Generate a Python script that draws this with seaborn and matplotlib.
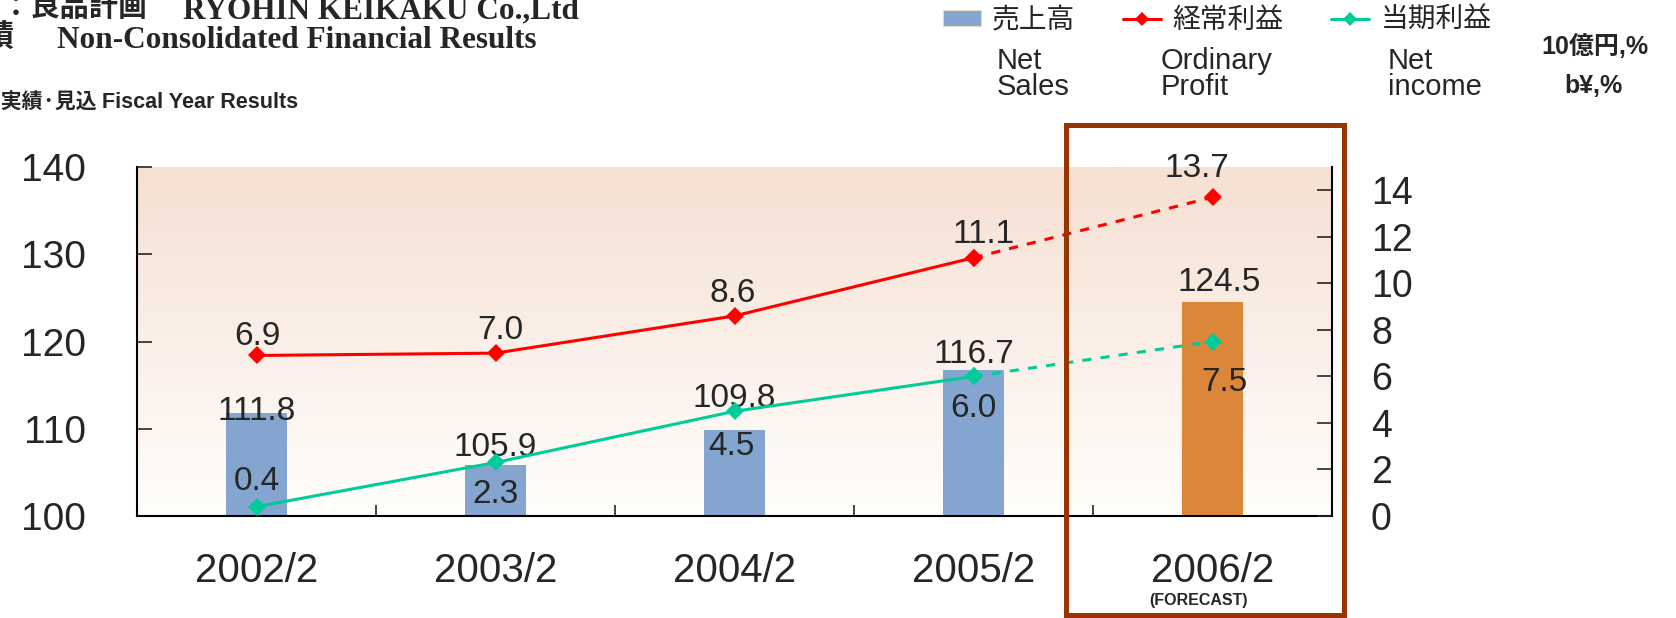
import numpy as np
import seaborn as sns
import matplotlib.pyplot as plt
from matplotlib.patches import Patch, Rectangle
from matplotlib.lines import Line2D
from matplotlib.ticker import FixedLocator, MultipleLocator

# ---- data (10億円 / b¥) ----
years = ['2002/2', '2003/2', '2004/2', '2005/2', '2006/2']
net_sales = [111.8, 105.9, 109.8, 116.7, 124.5]
ordinary_profit = [6.9, 7.0, 8.6, 11.1, 13.7]
net_income = [0.4, 2.3, 4.5, 6.0, 7.5]

legend_jp = ['売上高', '経常利益', '当期利益']
legend_en = ['Net\nSales', 'Ordinary\nProfit', 'Net\nincome']

# label offsets (points) from each mark
sales_off = [(0, 1), (0, 12), (0, 23), (0, 11.5), (5, 14)]
op_off = [(1, 13.7), (3.6, 16.6), (-1, 15.8), (7, 16.6), (-11, 20.5)]
ni_off = [(0, 18), (0, -22.7), (-2, -25.2), (0, -23), (8.3, -29.5)]

BLUE = '#84A5D0'
ORANGE = '#DC8639'
RED = '#FF0000'
GREEN = '#00CC99'
W, H = 1676, 618

sns.set_style('white')
plt.rcParams['font.family'] = ['Liberation Sans', 'Noto Sans CJK JP', 'DejaVu Sans']

fig = plt.figure(figsize=(W / 100, H / 100), dpi=100)
ax = fig.add_axes([137 / W, 1 - 516 / H, (1332 - 137) / W, (516 - 167) / H])

# gradient background
top = np.array([246, 224, 210]) / 255
bot = np.array([255, 254, 252]) / 255
t = np.linspace(0, 1, 256).reshape(-1, 1, 1)
grad = top * (1 - t) + bot * t
ax.imshow(grad, extent=[-0.5, 4.5, 100, 140], aspect='auto', origin='upper', zorder=0)

sns.barplot(x=years, y=net_sales, hue=years, palette=[BLUE] * 4 + [ORANGE],
            legend=False, width=0.255, saturation=1, linewidth=0, ax=ax, zorder=2)
ax.set_xlim(-0.5, 4.5)
ax.set_ylim(100, 140)
ax.set_xlabel('')
ax.set_ylabel('')
ax.yaxis.set_major_locator(MultipleLocator(10))
ax.tick_params(axis='y', direction='in', length=11, width=1.2, labelsize=28, pad=37, left=True)
ax.tick_params(axis='x', which='major', length=0, labelsize=29, pad=26)
ax.xaxis.set_minor_locator(FixedLocator([0.5, 1.5, 2.5, 3.5]))
ax.tick_params(axis='x', which='minor', direction='in', length=8, width=1.2, bottom=True)
for s in ['top', 'right']:
    ax.spines[s].set_visible(False)
for s in ['left', 'bottom']:
    ax.spines[s].set_color('black')
    ax.spines[s].set_linewidth(1.5)

for i, v in enumerate(net_sales):
    ax.annotate(f'{v:.1f}', (i, v), xytext=sales_off[i], textcoords='offset points',
                ha='center', va='center', fontsize=24, zorder=5)

# lines on right axis
ax2 = ax.twinx()
pos = np.arange(len(years))
for vals, col, offs in [(ordinary_profit, RED, op_off), (net_income, GREEN, ni_off)]:
    sns.lineplot(x=pos[:4], y=vals[:4], color=col, lw=2.2, marker='D', markersize=9,
                 markeredgewidth=0, ax=ax2)
    sns.lineplot(x=pos[3:], y=vals[3:], color=col, lw=2.2, linestyle=(0, (3, 3)),
                 marker='D', markersize=9, markeredgewidth=0, ax=ax2)
    for i, v in enumerate(vals):
        ax2.annotate(f'{v:.1f}', (i, v), xytext=offs[i], textcoords='offset points',
                     ha='center', va='center', fontsize=24)
ax2.set_ylim(0, 15)
ax2.set_ylabel('')
ax2.yaxis.set_major_locator(MultipleLocator(2))
ax2.tick_params(axis='y', direction='in', length=11, width=1.2, labelsize=27, pad=28, right=True)
ax2.spines['top'].set_visible(False)
ax2.spines['left'].set_visible(False)
ax2.spines['bottom'].set_visible(False)
ax2.spines['right'].set_color('black')
ax2.spines['right'].set_linewidth(1.5)

fig.text(1198 / W, 1 - 601 / H, '(FORECAST)', ha='center', va='center',
         fontsize=11.5, fontweight='bold')

# legend
handles = [Patch(facecolor=BLUE, edgecolor='#E8DCC0', lw=0.8),
           Line2D([], [], color=RED, lw=2.2, marker='D', ms=7, mew=0),
           Line2D([], [], color=GREEN, lw=2.2, marker='D', ms=7, mew=0)]
fig.legend(handles, legend_jp, loc='upper left', bbox_to_anchor=(943 / W, 1 - 8 / H),
           ncol=3, frameon=False, fontsize=20, handlelength=1.37, handletextpad=0.4,
           columnspacing=1.72, borderpad=0, borderaxespad=0, handleheight=0.5)
for x, txt in zip([997, 1161, 1388], legend_en):
    fig.text(x / W, 1 - 74 / H, txt, ha='left', va='center', fontsize=21, linespacing=0.95)

fig.text(1595 / W, 1 - 46 / H, '10億円,%', ha='center', va='center', fontsize=18, fontweight='bold')
fig.text(1593 / W, 1 - 86 / H, 'b¥,%', ha='center', va='center', fontsize=18, fontweight='bold')

# header (cut off at the left edge, as in the source page)
fig.text(147 / W, 1 - 16 / H, '会社名：良品計画', ha='right', va='baseline', fontsize=21,
         fontweight='bold', family=['Noto Sans CJK JP'])
fig.text(183 / W, 1 - 18 / H, 'RYOHIN KEIKAKU Co.,Ltd', ha='left', va='baseline',
         fontsize=22.5, fontweight='bold', family=['Liberation Serif'])
fig.text(15 / W, 1 - 46 / H, '個別業績', ha='right', va='baseline', fontsize=22,
         fontweight='bold', family=['Noto Sans CJK JP'])
fig.text(57 / W, 1 - 48 / H, 'Non-Consolidated Financial Results', ha='left', va='baseline',
         fontsize=22.5, fontweight='bold', family=['Liberation Serif'])
fig.text(97 / W, 1 - 102 / H, '通期実績·見込', ha='right', va='center', fontsize=15,
         fontweight='bold', family=['Noto Sans CJK JP', 'DejaVu Sans'])
fig.text(102 / W, 1 - 102 / H, 'Fiscal Year Results', ha='left', va='center', fontsize=15.5,
         fontweight='bold')

# forecast box
fig.add_artist(Rectangle((1066 / W, 1 - 615 / H), (1344 - 1066) / W, (615 - 125) / H,
                         transform=fig.transFigure, fill=False, edgecolor='#993300',
                         lw=3.6, zorder=10))

fig.savefig('out.png', dpi=100)
